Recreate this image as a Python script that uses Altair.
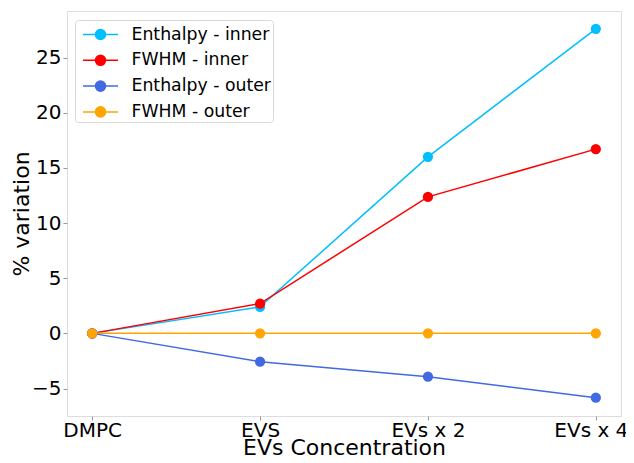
import altair as alt
import pandas as pd

categories = ["DMPC", "EVS", "EVs x 2", "EVs x 4"]
series_names = ["Enthalpy - inner", "FWHM - inner", "Enthalpy - outer", "FWHM - outer"]
enthalpy_inner = [0.0, 2.4, 16.0, 27.6]
fwhm_inner = [0.0, 2.7, 12.37, 16.7]
enthalpy_outer = [0.0, -2.57, -3.93, -5.83]
fwhm_outer = [0.0, 0.0, 0.0, 0.0]
colors = ["#00BFFF", "#FF0000", "#4169E1", "#FFA500"]

rows = []
for name, vals in zip(series_names, [enthalpy_inner, fwhm_inner, enthalpy_outer, fwhm_outer]):
    for i, (c, v) in enumerate(zip(categories, vals)):
        rows.append({"series": name, "cat": c, "value": v, "order": i})
df = pd.DataFrame(rows)

FONT = "DejaVu Sans"

x_enc = alt.X("cat:N", sort=categories,
              scale=alt.Scale(type="point", padding=0.15),
              axis=alt.Axis(title="EVs Concentration", labelAngle=0, labelFontSize=20,
                            titleFontSize=22, titleFontWeight="normal", labelPadding=0,
                            labelOffset=alt.ConditionalAxisNumber(
                                condition={"test": "datum.value == 'EVs x 4'", "value": -5},
                                value=0),
                            titleY=38, titleBaseline="alphabetic", tickSize=4, tickColor="#999",
                            domain=False, grid=False, labelColor="black", titleColor="black",
                            labelFont=FONT, titleFont=FONT))
y_enc = alt.Y("value:Q", scale=alt.Scale(domain=[-7.49, 29.22], nice=False, zero=False),
              axis=alt.Axis(title="% variation", values=[-5, 0, 5, 10, 15, 20, 25],
                            labelExpr="replace(format(datum.value, 'd'), '-', '\u2212')",
                            labelFontSize=20, titleFontSize=22, titleFontWeight="normal",
                            labelPadding=2, titleX=-39, titleBaseline="alphabetic",
                            tickSize=4, tickColor="#999",
                            domain=False, grid=False, labelColor="black", titleColor="black",
                            labelFont=FONT, titleFont=FONT))

sym_path = "M-0.54,0L2.375,0M0.497,0A0.42,0.42 0 1,1 1.337,0A0.42,0.42 0 1,1 0.497,0Z"

color_enc = alt.Color("series:N", sort=series_names,
                      scale=alt.Scale(domain=series_names, range=colors),
                      legend=alt.Legend(title=None, orient="none", legendX=8, legendY=9,
                                        symbolType=sym_path, symbolSize=576,
                                        symbolStrokeWidth=1.5, symbolOpacity=1,
                                        labelFontSize=17.3, labelFont=FONT, labelColor="black",
                                        labelOffset=29, rowPadding=3.8, padding=1.5,
                                        fillColor="white", strokeColor="#d8d8d8",
                                        cornerRadius=3, labelLimit=300))

lines = alt.Chart(df).mark_line(strokeWidth=1.5).encode(
    x=x_enc, y=y_enc, color=color_enc, order="order:Q")
points = alt.Chart(df).mark_circle(size=105, opacity=1).encode(
    x=x_enc, y=y_enc, color=alt.Color("series:N", sort=series_names,
                                      scale=alt.Scale(domain=series_names, range=colors),
                                      legend=None))

chart = alt.layer(lines, points).properties(
    width=554, height=405,
    autosize=alt.AutoSizeParams(type="none"),
    padding={"left": 59, "top": 3, "right": 5, "bottom": 39},
).configure_view(stroke="#bdbdbd", strokeWidth=1.2).configure(background="white")

chart.save("out.html", embed_options={"renderer": "svg", "actions": False})
